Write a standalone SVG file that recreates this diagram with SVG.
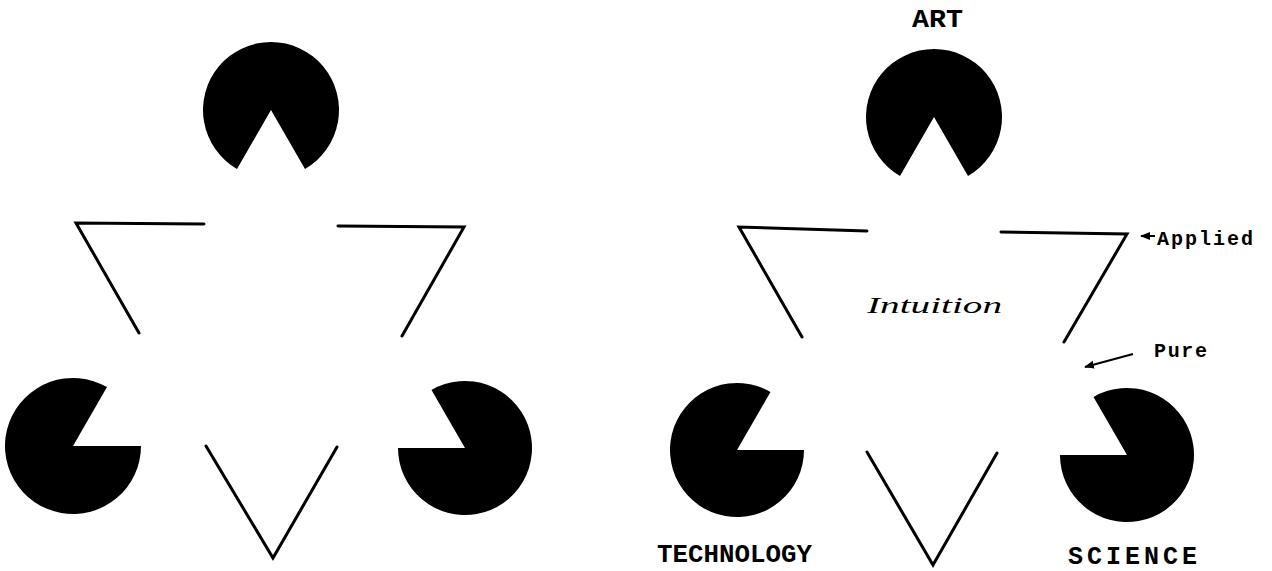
<svg xmlns="http://www.w3.org/2000/svg" width="1272" height="571" viewBox="0 0 1272 571">
<defs>
<style>
.pac{fill:#000;stroke:none}
.edge{fill:none;stroke:#000;stroke-width:3;stroke-linejoin:miter;stroke-linecap:round}
.lbl{font-family:"Liberation Mono","DejaVu Sans Mono",monospace;font-weight:bold;fill:#000}
.hand{font-family:"Liberation Serif","DejaVu Serif",serif;font-style:italic;fill:#000}
.arr{fill:none;stroke:#000;stroke-width:2}
</style>
<marker id="ah" viewBox="0 0 10 10" refX="9" refY="5" markerWidth="5" markerHeight="5" orient="auto" markerUnits="strokeWidth">
<path d="M0,1 L10,5 L0,9 Z" fill="#000"/>
</marker>
</defs>
<rect width="1272" height="571" fill="#fff"/>

<!-- Left figure -->
<g id="left-top-pacman"><path class="pac" d="M271 110 L305 168.9 A68 68 0 1 0 237 168.9 Z"/></g>
<g id="left-bl-pacman"><path class="pac" d="M73 446 L141 446 A68 68 0 1 1 107 387.1 Z"/></g>
<g id="left-br-pacman"><path class="pac" d="M465 448 L398 448 A67 67 0 1 0 431.5 390 Z"/></g>
<g id="left-outline">
<polyline class="edge" points="204,224 76,223 139,333"/>
<polyline class="edge" points="338,226 464,227 402,336"/>
<polyline class="edge" points="206,446 273,558 337,447"/>
</g>

<!-- Right figure -->
<g id="art">
<path class="pac" d="M934 117 L968 175.9 A68 68 0 1 0 900 175.9 Z"/>
<text class="lbl" x="912" y="27" font-size="26" textLength="51" lengthAdjust="spacingAndGlyphs">ART</text>
</g>
<g id="technology">
<path class="pac" d="M737 450 L804 450 A67 67 0 1 1 770.5 392 Z"/>
<text class="lbl" x="657" y="562" font-size="26" textLength="155" lengthAdjust="spacingAndGlyphs">TECHNOLOGY</text>
</g>
<g id="science">
<path class="pac" d="M1127 455 L1060 455 A67 67 0 1 0 1093.5 397 Z"/>
<text class="lbl" x="1068" y="564" font-size="25" textLength="129" lengthAdjust="spacing">SCIENCE</text>
</g>
<g id="right-outline">
<polyline class="edge" points="867,231 739,227 802,337"/>
<polyline class="edge" points="1001,232 1127,234 1064,342"/>
<polyline class="edge" points="867,452 933,565 997,453"/>
</g>
<g id="intuition">
<text class="hand" x="867" y="313" font-size="24" textLength="135" lengthAdjust="spacingAndGlyphs">Intuition</text>
</g>
<g id="applied">
<text class="lbl" x="1157" y="245" font-size="20" textLength="96" lengthAdjust="spacing">Applied</text>
</g>
<g id="pure">
<text class="lbl" x="1154" y="357" font-size="20" textLength="53" lengthAdjust="spacing">Pure</text>
</g>

<g id="connectors">
<line class="arr" x1="1155" y1="236" x2="1141" y2="236" marker-end="url(#ah)"/>
<line class="arr" x1="1133" y1="354" x2="1085" y2="367" marker-end="url(#ah)"/>
</g>
</svg>
